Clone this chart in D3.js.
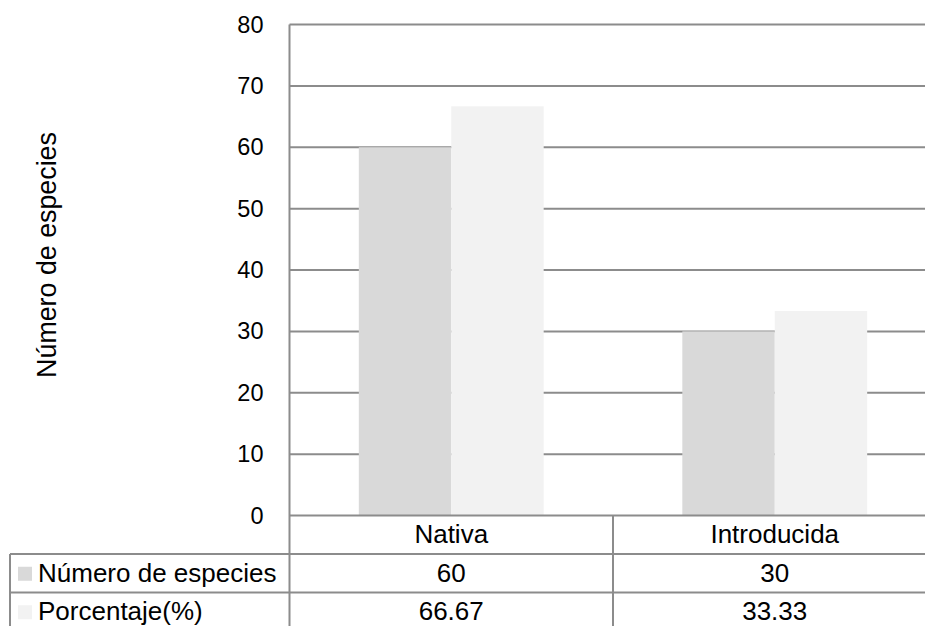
<!DOCTYPE html>
<html>
<head>
<meta charset="utf-8">
<script src="https://cdn.jsdelivr.net/npm/d3@7"></script>
<style>
  html, body { margin: 0; padding: 0; background: #ffffff; }
  svg { display: block; font-family: "Liberation Sans", Arial, sans-serif; }
</style>
</head>
<body>
<svg id="chart" width="925" height="626"></svg>
<script>
// Species counts by origin, with the matching percentages
const categories = ["Nativa", "Introducida"];
const seriesNames = ["Número de especies", "Porcentaje(%)"];
const numeroEspecies = [60, 30];
const porcentaje = [66.67, 33.33];
const porcentajeLabels = ["66.67", "33.33"];
const yTicks = [0, 10, 20, 30, 40, 50, 60, 70, 80];

const seriesValues = [numeroEspecies, porcentaje];
const seriesText = [numeroEspecies.map(String), porcentajeLabels];
const seriesColors = ["#d9d9d9", "#f2f2f2"];
const lineColor = "#8c8c8c";

const svg = d3.select("#chart");
const W = 925, H = 626;

const plot = { left: 289.5, top: 24.5, bottom: 515.5, right: 936.5 };
const tableLeft = 10;
const rowH = 38.5;
const tableFont = 26;

const y = d3.scaleLinear().domain([0, 80]).range([plot.bottom, plot.top]);
const x0 = d3.scaleBand().domain(categories).range([plot.left, plot.right]).padding(0);
const bw = x0.bandwidth();
// gap width of 150% between groups
const x1 = d3.scaleBand().domain(seriesNames)
  .range([bw * 0.75 / 3.5, bw * 2.75 / 3.5]).padding(0);

// gridlines
const grid = svg.append("g");
grid.selectAll("line").data(yTicks.filter(t => t > 0)).join("line")
  .attr("x1", plot.left).attr("x2", W)
  .attr("y1", d => y(d)).attr("y2", d => y(d))
  .attr("stroke", lineColor).attr("stroke-width", 2);

// bars
const groups = svg.append("g").selectAll("g").data(categories).join("g")
  .attr("transform", d => `translate(${x0(d)},0)`);
groups.selectAll("rect")
  .data((c, i) => seriesNames.map((s, k) => ({ s, v: seriesValues[k][i], k })))
  .join("rect")
  .attr("x", d => x1(d.s))
  .attr("width", x1.bandwidth())
  .attr("y", d => y(d.v))
  .attr("height", d => y(0) - y(d.v))
  .attr("fill", d => seriesColors[d.k]);

// y tick labels
const yAxis = d3.axisLeft(y).tickValues(yTicks).tickSize(0).tickPadding(26);
const ax = svg.append("g").attr("transform", `translate(${plot.left},0)`).call(yAxis);
ax.select(".domain").remove();
ax.selectAll("text").attr("font-size", 23.5).attr("fill", "#000")
  .attr("font-family", "Liberation Sans, Arial, sans-serif");

// axis label
svg.append("text")
  .attr("transform", `translate(56,${(133 + 377) / 2}) rotate(-90)`)
  .attr("text-anchor", "middle")
  .attr("font-size", 26.8)
  .text("Número de especies");

// data table
const tb = svg.append("g").attr("stroke", lineColor).attr("stroke-width", 2);
const rowTops = [plot.bottom, plot.bottom + rowH, plot.bottom + 2 * rowH, plot.bottom + 3 * rowH];
// horizontal lines
tb.append("line").attr("x1", plot.left).attr("x2", W).attr("y1", rowTops[0]).attr("y2", rowTops[0]);
tb.append("line").attr("x1", tableLeft).attr("x2", W).attr("y1", rowTops[1]).attr("y2", rowTops[1]);
tb.append("line").attr("x1", tableLeft).attr("x2", W).attr("y1", rowTops[2]).attr("y2", rowTops[2]);
// vertical lines
tb.append("line").attr("x1", plot.left).attr("x2", plot.left).attr("y1", plot.top).attr("y2", H);
tb.append("line").attr("x1", tableLeft).attr("x2", tableLeft).attr("y1", rowTops[1]).attr("y2", H);
tb.append("line").attr("x1", x0(categories[1])).attr("x2", x0(categories[1])).attr("y1", rowTops[0]).attr("y2", H);

const cellMid = i => rowTops[i] + rowH / 2 + 8.5;

// category headings
svg.append("g").selectAll("text").data(categories).join("text")
  .attr("x", d => x0(d) + bw / 2).attr("y", cellMid(0))
  .attr("text-anchor", "middle").attr("font-size", tableFont).text(d => d);

// series rows
seriesNames.forEach((s, k) => {
  const r = k + 1;
  svg.append("rect")
    .attr("x", 18).attr("y", rowTops[r] + rowH / 2 - 6.5)
    .attr("width", 14).attr("height", 14)
    .attr("fill", seriesColors[k]);
  svg.append("text")
    .attr("x", 38).attr("y", cellMid(r))
    .attr("font-size", tableFont).text(s);
  svg.append("g").selectAll("text").data(categories).join("text")
    .attr("x", d => x0(d) + bw / 2).attr("y", cellMid(r))
    .attr("text-anchor", "middle").attr("font-size", tableFont)
    .text((d, i) => seriesText[k][i]);
});
</script>
</body>
</html>
